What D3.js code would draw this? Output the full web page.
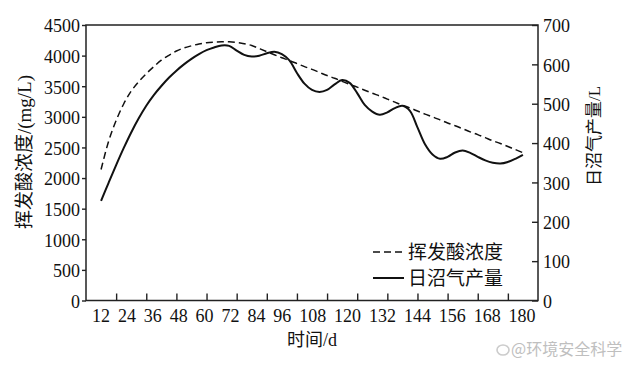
<!DOCTYPE html>
<html>
<head>
<meta charset="utf-8">
<script src="https://cdn.jsdelivr.net/npm/d3@7"></script>
<style>
  body { margin: 0; background: #fff; }
  svg { display: block; }
  text { font-family: "Liberation Serif", "Noto Sans CJK SC", serif; fill: #111; }
</style>
</head>
<body>
<div id="chart"></div>
<script>
// Days sampled every 3 d.
var days = [12, 15, 18, 21, 24, 27, 30, 33, 36, 39, 42, 45, 48, 51, 54, 57, 60,
  63, 66, 69, 72, 75, 78, 81, 84, 87, 90, 93, 96, 99, 102, 105, 108, 111, 114,
  117, 120, 123, 126, 129, 132, 135, 138, 141, 144, 147, 150, 153, 156, 159,
  162, 165, 168, 171, 174, 177, 180];

// Volatile acid concentration, mg/L (left axis).
var acid = [2140, 2600, 2940, 3210, 3420, 3575, 3705, 3820, 3925, 4005, 4075,
  4125, 4160, 4190, 4210, 4220, 4225, 4225, 4215, 4195, 4165, 4115, 4065, 4015,
  3965, 3920, 3870, 3820, 3775, 3725, 3675, 3630, 3580, 3530, 3485, 3435, 3385,
  3340, 3290, 3240, 3190, 3145, 3095, 3045, 3000, 2950, 2900, 2855, 2805, 2755,
  2710, 2660, 2610, 2565, 2515, 2465, 2415];

// Daily biogas production, L (right axis).
var biogas = [253, 299, 344, 387, 427, 463, 495, 522, 545, 566, 584, 600, 614,
  626, 636, 643, 648, 647, 635, 624, 620, 622, 628, 632, 626, 610, 578, 551,
  535, 530, 535, 549, 560, 553, 527, 497, 480, 472, 478, 489, 495, 482, 440,
  397, 371, 360, 365, 376, 381, 375, 365, 356, 350, 348, 352, 360, 370];

var xTickMarks = [18, 30, 42, 54, 66, 78, 90, 102, 114, 126, 138, 150, 162, 174];
var xTickLabels = ['12', '24', '36', '48', '60', '72', '84', '96', '108', '120',
  '132', '144', '156', '168', '180'];
var leftTicks = [0, 500, 1000, 1500, 2000, 2500, 3000, 3500, 4000, 4500];
var rightTicks = [0, 100, 200, 300, 400, 500, 600, 700];

var seriesNames = ['挥发酸浓度', '日沼气产量'];

var size = { width: 640, height: 372 };
var plot = { left: 86, top: 25, right: 538, bottom: 300.5 };

var x = d3.scaleLinear().domain([6, 186]).range([plot.left, plot.right]);
var yL = d3.scaleLinear().domain([0, 4500]).range([plot.bottom, plot.top]);
var yR = d3.scaleLinear().domain([0, 700]).range([plot.bottom, plot.top]);

var svg = d3.select('#chart').append('svg')
  .attr('width', size.width)
  .attr('height', size.height);

// Lines first, frame and axes drawn over them.
var acidLine = d3.line()
  .x(function(d, i) { return x(days[i]); })
  .y(function(d) { return yL(d); })
  .curve(d3.curveCatmullRom.alpha(0.5));

var gasLine = d3.line()
  .x(function(d, i) { return x(days[i]); })
  .y(function(d) { return yR(d); })
  .curve(d3.curveCatmullRom.alpha(0.5));

svg.append('path')
  .attr('d', acidLine(acid))
  .attr('fill', 'none')
  .attr('stroke', '#111')
  .attr('stroke-width', 1.5)
  .attr('stroke-dasharray', '7,4');

svg.append('path')
  .attr('d', gasLine(biogas))
  .attr('fill', 'none')
  .attr('stroke', '#111')
  .attr('stroke-width', 2);

svg.append('rect')
  .attr('x', plot.left)
  .attr('y', plot.top)
  .attr('width', plot.right - plot.left)
  .attr('height', plot.bottom - plot.top)
  .attr('fill', 'none')
  .attr('stroke', '#222')
  .attr('stroke-width', 1.5);

var xAxis = svg.append('g')
  .attr('transform', 'translate(0,' + plot.bottom + ')')
  .call(d3.axisBottom(x).tickValues(xTickMarks).tickSize(-7).tickFormat(''));

var leftAxis = svg.append('g')
  .attr('transform', 'translate(' + plot.left + ',0)')
  .call(d3.axisLeft(yL).tickValues(leftTicks).tickSize(4).tickPadding(2)
    .tickFormat(d3.format('d')));

var rightAxis = svg.append('g')
  .attr('transform', 'translate(' + plot.right + ',0)')
  .call(d3.axisRight(yR).tickValues(rightTicks).tickSize(-6).tickPadding(5)
    .tickFormat(d3.format('d')));

[xAxis, leftAxis, rightAxis].forEach(function(a) {
  a.select('.domain').remove();
  a.selectAll('line').attr('stroke', '#222').attr('stroke-width', 1.4);
  a.selectAll('text')
    .attr('font-family', null)
    .style('font-size', '18px')
    .attr('dy', '0.38em');
});

// x labels are set as a run of text, as in the source figure.
var xl = svg.append('text')
  .attr('x', 92)
  .attr('y', 322)
  .style('font-size', '18px');
xl.selectAll('tspan')
  .data(xTickLabels)
  .enter()
  .append('tspan')
  .attr('dx', function(d, i) { return i ? 7.9 : 0; })
  .text(function(d) { return d; });

svg.append('text')
  .attr('x', 312)
  .attr('y', 346)
  .attr('text-anchor', 'middle')
  .style('font-size', '18px')
  .text('时间/d');

svg.append('text')
  .attr('transform', 'translate(24,152) rotate(-90)')
  .attr('text-anchor', 'middle')
  .attr('dy', '0.35em')
  .style('font-size', '19px')
  .text('挥发酸浓度/(mg/L)');

svg.append('text')
  .attr('transform', 'translate(594,136) rotate(-90)')
  .attr('text-anchor', 'middle')
  .attr('dy', '0.35em')
  .style('font-size', '17px')
  .text('日沼气产量/L');

// Legend
var legend = svg.append('g');
seriesNames.forEach(function(name, i) {
  var ly = 252 + i * 26;
  legend.append('line')
    .attr('x1', 373).attr('x2', 404)
    .attr('y1', ly).attr('y2', ly)
    .attr('stroke', '#111')
    .attr('stroke-width', i ? 2 : 1.5)
    .attr('stroke-dasharray', i ? null : '7,4');
  legend.append('text')
    .attr('x', 408)
    .attr('y', ly)
    .attr('dy', '0.36em')
    .style('font-size', '19px')
    .text(name);
});

// Watermark
var wm = svg.append('g').attr('opacity', 0.75);
wm.append('ellipse')
  .attr('cx', 503).attr('cy', 350)
  .attr('rx', 6).attr('ry', 5)
  .attr('fill', 'none')
  .attr('stroke', '#bbb')
  .attr('stroke-width', 1.6);
wm.append('text')
  .attr('x', 511)
  .attr('y', 349)
  .attr('dy', '0.36em')
  .style('font-family', '"Noto Sans CJK SC", sans-serif')
  .style('font-size', '16px')
  .style('fill', '#aaa')
  .text('@环境安全科学');
</script>
</body>
</html>
